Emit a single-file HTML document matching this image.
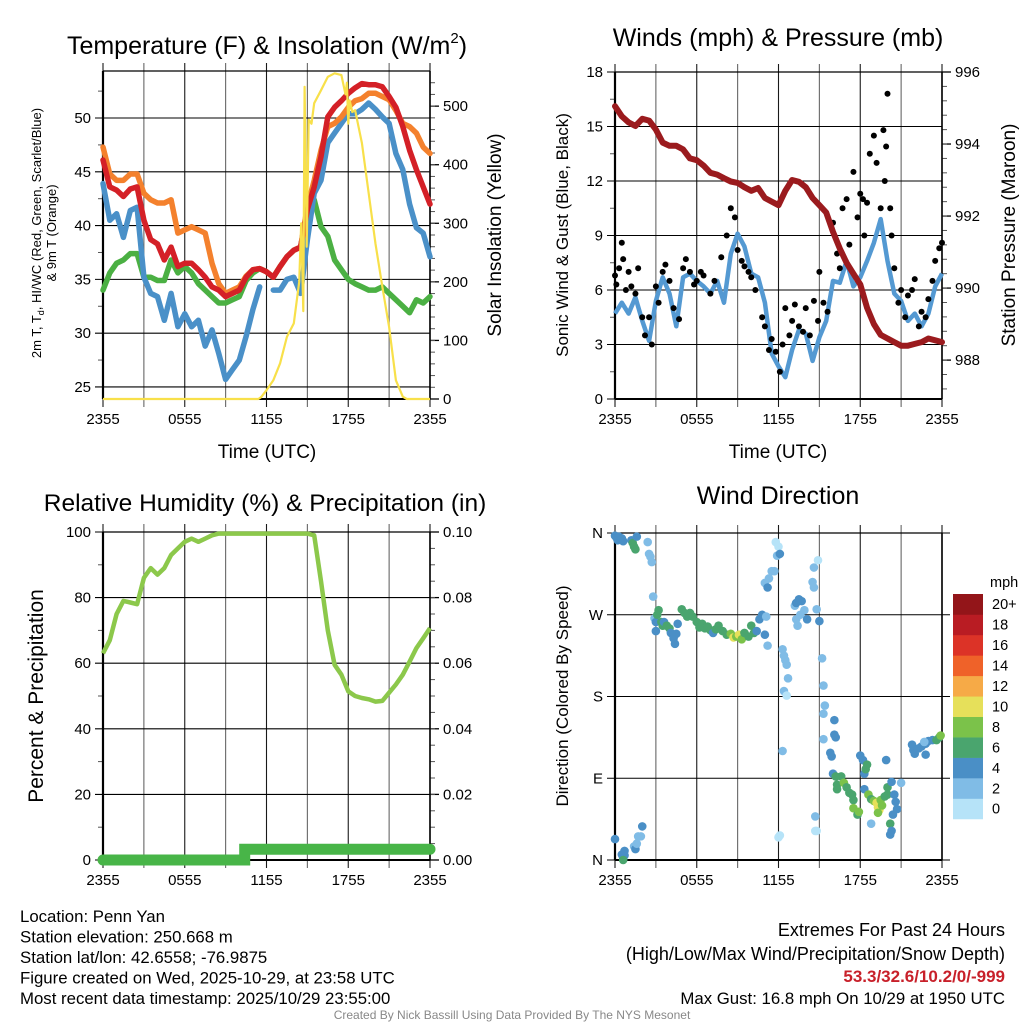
<!DOCTYPE html>
<html><head><meta charset="utf-8"><style>
html,body{margin:0;padding:0;background:#fff;width:1024px;height:1024px;overflow:hidden}
svg{display:block;font-family:"Liberation Sans",sans-serif}
</style></head><body>
<svg id="s" width="1024" height="1024" viewBox="0 0 1024 1024"></svg>
<script>
// ---------- DATA ----------
const timeTicks = [0, 6, 12, 18, 24];
const timeLabels = ["2355", "0555", "1155", "1755", "2355"];
// temperatures every 0.5 h
const tempRed = [46.1,43.6,43.3,42.7,43.4,43.6,40.5,38.7,38.3,36.8,38,36.2,36.5,36.5,35.9,35.2,34.3,34,33.4,33.7,34,35.2,35.9,36,35.7,35.2,36.2,37.1,37.7,38,41.5,43.6,46.4,50.1,51,51.6,52.3,52.8,53.2,53.1,53.1,52.9,52,51,49.2,47,45.2,43.6,42];
const tempOrange = [47.3,44.8,44.2,44.2,44.8,44.8,43,42.4,42.1,42.1,42.4,39.3,39.6,39.9,39.6,39.3,36.5,34.6,33.7,34,34.3,35.3,35.9,36,35.7,35.2,36.2,37.1,37.7,38,41.8,44.2,47,49.2,49.5,50.1,51,51.6,51.8,52.3,52.3,52,51.7,50.7,49.5,49.2,48.6,47.3,46.7];
const tempBlue = [43.9,40.5,41.1,38.9,41.4,41.7,35.2,33.7,33.4,31.2,33.7,30.6,31.8,30.6,31.2,28.8,30.3,28.1,25.7,26.6,27.5,29.7,32.2,34.3,null,34,34,35,35.2,33.7,38.7,43,44.2,47.7,48.6,49.5,50.4,50.4,50.8,51.4,50.8,50.1,49.5,46.7,45.2,42,39.8,39.3,37.1];
const tempGreen = [34,35.6,36.5,36.8,37.4,37.4,35.2,35.2,34.9,34.9,36.8,35.6,36.2,35.6,34.6,34,33.4,32.8,32.8,33.1,33.4,34.9,35.6,36,35.7,35.2,36.2,37.1,37.7,38,41.5,42.4,39.9,39,36.8,35.9,35,34.6,34.3,34,34,34.3,33.7,33.1,32.5,31.9,33.1,32.8,33.4];
const solarTimes = [0,11.4,11.6,12,12.5,13,13.5,14,14.4,14.55,14.7,14.8,14.95,15.1,15.3,15.5,16,16.5,17,17.5,17.8,17.9,18,18.1,18.3,18.5,19,19.5,20,20.5,21,21.5,22,22.3,24];
const solarVals = [0,0,3,15,32,61,106,129,200,300,150,533,260,477,470,505,527,550,556,553,520,540,470,510,490,493,437,351,265,192,123,32,4,0,0];
// winds every 0.5 h
const windSpeed = [4.7,5.3,4.7,5.6,4.3,3.2,5.4,6.7,5.8,4,6.7,6.9,6.5,6.2,5.8,6.5,5.3,8,9.1,8.4,6.9,6.7,5.3,2.5,1.8,1.2,2.7,3.8,3.6,2.1,3.4,4.3,6.5,6.4,7.6,6.2,6.7,7.6,8.6,9.9,7.6,5.8,5.4,4.3,4.7,4,4.7,6.2,6.9];
const pressure = [995.05,994.77,994.6,994.5,994.7,994.65,994.4,994.04,993.95,993.95,993.85,993.6,993.55,993.4,993.2,993.15,993.05,992.96,992.92,992.8,992.7,992.78,992.5,992.4,992.3,992.7,993.0,992.95,992.8,992.5,992.3,992.1,991.56,991.1,990.7,990.4,990.1,989.45,989.0,988.7,988.6,988.5,988.4,988.4,988.45,988.5,988.6,988.55,988.5];
const gustTimes = [0,0.1,0.3,0.5,0.6,0.8,1,1.2,1.5,1.7,2,2.2,2.5,2.7,3,3.2,3.5,3.7,4,4.3,4.7,5,5.2,5.5,5.8,6,6.3,6.5,7,7.3,7.8,8.2,8.5,8.8,9,9.3,9.5,9.8,10,10.3,10.8,11,11.3,11.5,11.8,12.1,12.3,12.5,12.8,13,13.2,13.5,13.8,14,14.3,14.6,14.9,15,15.3,15.6,16,16.3,16.5,16.7,17,17.2,17.5,17.8,18,18.2,18.3,18.5,18.7,19,19.2,19.5,19.7,19.8,19.9,20,20.2,20.3,20.5,20.8,21,21.3,21.5,21.8,22,22.3,22.5,22.8,23,23.3,23.5,23.8,24];
const gustVals = [6.8,6.3,7.2,8.6,7.7,6,7,6.2,5.8,7.2,4.5,3.5,4.5,3,6.2,5.3,7,7.4,6.5,5,4.4,7.2,7.7,7,6.3,6.5,7,6.8,5.8,6.5,7.8,9,10.5,10,8.2,7.6,7.3,7,6.7,6,4.5,4,2.7,3.3,2.6,1.5,3,5,3.5,4.3,5.2,4,3.7,5,3.5,5.4,4.3,7,5.3,4.8,9.7,8,7.2,10.5,11,8.5,12.5,10,11.3,11,9,10.8,13.5,14.5,13,10.5,14.8,12,13.9,16.8,10.5,9,7.2,5.3,6,4.5,5.7,6,6.6,4,4.8,4.5,5.5,6.5,7.6,8.3,8.6];
// RH every 0.5 h
const rhVals = [63,67,75,79,78.5,78,86,89,87,89,93,95,97,98,97,98,99,99.5,99.5,99.5,99.5,99.5,99.5,99.5,99.5,99.5,99.5,99.5,99.5,99.5,99.5,99,85,70,59.5,56.5,51.4,50,49.4,49,48.3,48.5,51,53.5,56.5,60.5,64.6,67.6,70.7];
const precipTimes = [0,10.4,10.4,24];
const precipVals = [0,0,0.0033,0.0033];
// wind direction
const dirH = [0,0.1,0.2,0.3,0.5,0.6,1.2,1.3,1.4,1.5,1.6,2.4,2.5,2.6,2.7,2.8,2.9,3,3,3.1,3.2,3.4,3.5,3.6,3.8,4,4.1,4.3,4.4,4.5,4.6,4.9,5.1,5.3,5.5,5.7,6,6.2,6.4,6.6,6.8,7,7.2,7.4,7.6,7.9,8.2,8.5,8.7,8.9,9.1,9.3,9.5,9.8,10,10.2,10.4,10.6,10.8,11,11.1,11.2,11,11.2,11.3,11.5,11.7,11.8,11.9,12,12.1,12.3,12.4,12.5,12.6,12.7,12.4,12.6,12.3,12.1,12,13.2,13.3,13.5,13.7,13.3,13.4,13.6,13.9,14.1,14.5,14.6,14.6,14.9,14.8,15,15.2,15.3,15.4,15.3,15.3,14.7,14.7,14.8,16.1,16.1,16.2,15.8,15.9,16,16.2,16.3,16.3,16.6,16.8,17,17.2,17.4,17.5,17.5,17.8,17.9,18,18.2,18.3,18.4,18.5,18.3,18.6,18.8,19,19.2,19.3,19.4,19.5,19.6,19.3,19.8,20,20,19.9,20.3,20.5,20.6,20.7,20.4,20.2,20.3,20.2,21,18.8,21.8,21.9,22,22.3,22.5,22.8,23,23.3,23.6,23.8,23.9,22.7,22.8,0,0.5,0.6,0.7,0.7,0.6,1.4,1.5,1.7,1.9,2,1.6];
const dirDeg = [357,355,352,356,354,351,352,349,345,342,356,350,337,334,328,290,266,262,252,270,275,262,258,262,258,255,250,244,238,249,260,276,272,268,272,268,262,256,260,255,257,253,250,254,258,252,248,249,245,246,248,243,250,246,258,250,252,265,270,248,268,236,305,300,310,318,318,350,335,345,337,232,225,220,215,200,186,181,120,27,25,280,283,287,285,265,258,270,275,265,306,300,322,330,276,263,222,192,170,161,133,48,32,32,154,138,135,118,114,95,92,83,78,92,85,80,74,72,66,57,50,53,115,110,95,100,105,78,72,67,65,63,58,55,66,60,52,70,72,80,110,86,72,64,56,50,40,32,28,85,40,127,121,117,123,125,128,131,132,132,135,137,130,116,23,6,2,5,10,0,15,12,26,26,37,18];
const dirSpd = [4,4,4,4,4,4,4,6,6,6,4,2,2,2,2,2,2,4,4,6,6,6,6,4,6,6,4,4,4,4,4,6,6,6,6,6,6,6,6,6,6,6,4,6,6,6,6,8,10,8,10,8,6,6,6,6,4,4,4,4,2,2,2,4,2,2,2,0,2,0,4,2,2,2,2,2,2,0,2,0,0,2,4,4,4,2,2,2,2,4,2,2,2,0,2,4,2,2,2,2,2,2,0,0,4,4,4,4,4,4,6,6,6,6,8,6,6,6,6,8,6,8,4,4,4,6,6,4,8,6,8,10,10,10,8,8,8,6,6,6,4,4,4,4,4,4,6,4,4,2,2,4,4,4,4,4,4,4,4,6,6,8,2,4,4,4,4,4,4,6,2,4,2,2,4,2];
const cbLabels = ["0","2","4","6","8","10","12","14","16","18","20+"];
const cbColors = ["#b6e3f8","#80bce6","#4a8fc6","#4aa56e","#7bc24a","#e6e05a","#f6aa47","#ef6229","#dc3327","#b91c23","#931519"];

// ---------- HELPERS ----------
const NS = "http://www.w3.org/2000/svg";
const svg = document.getElementById("s");
function mk(tag, attrs, parent) {
  const e = document.createElementNS(NS, tag);
  for (const k in attrs) e.setAttribute(k, attrs[k]);
  (parent || svg).appendChild(e);
  return e;
}
function txt(str, x, y, size, opts, parent) {
  const t = mk("text", Object.assign({x: x, y: y, "font-size": size, fill: "#000"}, opts || {}), parent);
  t.textContent = str;
  return t;
}
function lin(d0, d1, r0, r1) { return v => r0 + (v - d0) / (d1 - d0) * (r1 - r0); }
function pathFrom(xs, ys, sx, sy) {
  let d = "", pen = false;
  for (let i = 0; i < xs.length; i++) {
    if (ys[i] === null || ys[i] === undefined) { pen = false; continue; }
    d += (pen ? "L" : "M") + sx(xs[i]).toFixed(1) + "," + sy(ys[i]).toFixed(1);
    pen = true;
  }
  return d;
}
const halfHours = tempRed.map((_, i) => i * 0.5);

function frame(name, x0, x1, y0, y1, leftTicks, leftLabels, leftMinor, sy, rightTicks, rightLabels, rightMinor, sr) {
  const g = mk("g", {});
  
  
  const sx = lin(0, 24, x0, x1);
  for (let h = 0; h <= 24; h += 3) {
    const x = sx(h);
    mk("line", {x1: x, x2: x, y1: y0 - 8, y2: y1 + 8, stroke: "#000", "stroke-width": 1.1, "stroke-opacity": h % 6 ? 0.6 : 0.9}, g);
  }
  leftTicks.forEach((v, i) => {
    const y = sy(v);
    mk("line", {x1: x0 - 8, x2: x1 + (rightTicks ? 0 : 8), y1: y, y2: y, stroke: "#000", "stroke-width": 1.1}, g);
    const t = txt(leftLabels[i], x0 - 12, y + 5, 15, {"text-anchor": "end"}, g);
    
    
  });
  (leftMinor || []).forEach(v => { const y = sy(v); mk("line", {x1: x0 - 5, x2: x0, y1: y, y2: y, stroke: "#555", "stroke-width": 1}, g); });
  if (rightTicks) {
    rightTicks.forEach((v, i) => {
      const y = sr(v);
      mk("line", {x1: x1, x2: x1 + 9, y1: y, y2: y, stroke: "#000", "stroke-width": 1.3}, g);
      const t = txt(rightLabels[i], x1 + 13, y + 5, 15, {}, g);
      
      
    });
    (rightMinor || []).forEach(v => { const y = sr(v); mk("line", {x1: x1, x2: x1 + 5, y1: y, y2: y, stroke: "#555", "stroke-width": 1}, g); });
  }
  mk("line", {x1: x0, x2: x1, y1: y0, y2: y0, stroke: "#000", "stroke-width": 1.2}, g);
  mk("line", {x1: x0, x2: x1, y1: y1, y2: y1, stroke: "#000", "stroke-width": 2}, g);
  mk("line", {x1: x0, x2: x0, y1: y0, y2: y1, stroke: "#000", "stroke-width": 2.2}, g);
  mk("line", {x1: x1, x2: x1, y1: y0, y2: y1, stroke: "#000", "stroke-width": 1.6}, g);
  timeTicks.forEach((h, i) => {
    const t = txt(timeLabels[i], sx(h), y1 + 25, 15, {"text-anchor": "middle"}, g);
    
    
  });
  return sx;
}
function range(a, b, s) { const r = []; for (let v = a; v <= b + 1e-9; v += s) r.push(+v.toFixed(4)); return r; }

// ---------- PANEL 1: Temperature ----------
{
  const x0 = 103, x1 = 430, y0 = 71, y1 = 399;
  const sy = lin(23.88, 54.37, y1, y0), sr = lin(0, 560, y1, y0);
  const lt = [25, 30, 35, 40, 45, 50];
  const rt = [0, 100, 200, 300, 400, 500];
  const sx = frame("temperature", x0, x1, y0, y1, lt, lt.map(String), range(27.5, 52.5, 5), sy, rt, rt.map(String), range(20, 540, 20), sr);
  const series = [["dewpoint-line", tempGreen, "#4bb043"], ["windchill-line", tempBlue, "#4a90c8"], ["temp-9m-line", tempOrange, "#f4812d"], ["temp-2m-line", tempRed, "#d42027"]];
  series.forEach(s => {
    const p = mk("path", {d: pathFrom(halfHours, s[1], sx, sy), fill: "none", stroke: s[2], "stroke-width": 5.5, "stroke-linejoin": "round", "stroke-linecap": "round"});
    
    
  });
  const sol = mk("path", {d: pathFrom(solarTimes, solarVals, sx, sr), fill: "none", stroke: "#f8e04a", "stroke-width": 2.2, "stroke-linejoin": "round"});
  
  
  const t = txt("", 267, 54, 25, {"text-anchor": "middle"});
  t.innerHTML = 'Temperature (F) &amp; Insolation (W/m<tspan font-size="15" dy="-11">2</tspan><tspan dy="11">)</tspan>';
  
  
  const xl = txt("Time (UTC)", 267, 458, 19, {"text-anchor": "middle"});
  
  
  const yl = txt("", 0, 0, 13, {"text-anchor": "middle", transform: "translate(41,233) rotate(-90)"});
  yl.innerHTML = '2m T, T<tspan font-size="9" dy="3">d</tspan><tspan dy="-3">, HI/WC (Red, Green, Scarlet/Blue)</tspan>';
  
  
  const yl2 = txt("& 9m T (Orange)", 0, 0, 13, {"text-anchor": "middle", transform: "translate(56,233) rotate(-90)"});
  
  
  const yr = txt("Solar Insolation (Yellow)", 0, 0, 19, {"text-anchor": "middle", transform: "translate(501,235) rotate(-90)"});
  
  
}

// ---------- PANEL 2: Winds ----------
{
  const x0 = 615, x1 = 942, y0 = 72, y1 = 399;
  const sy = lin(0, 18, y1, y0), sr = lin(986.92, 996, y1, y0);
  const lt = [0, 3, 6, 9, 12, 15, 18];
  const rt = [988, 990, 992, 994, 996];
  const sx = frame("winds", x0, x1, y0, y1, lt, lt.map(String), range(1.5, 16.5, 3), sy, rt, rt.map(String), range(987.2, 995.6, 0.4), sr);
  const w = mk("path", {d: pathFrom(halfHours, windSpeed, sx, sy), fill: "none", stroke: "#5499d2", "stroke-width": 4.5, "stroke-linejoin": "round"});
  
  
  gustTimes.forEach((h, i) => {
    const c = mk("circle", {cx: sx(h), cy: sy(gustVals[i]), r: 3, fill: "#000"});
    
    
  });
  const p = mk("path", {d: pathFrom(halfHours, pressure, sx, sr), fill: "none", stroke: "#9b1b1e", "stroke-width": 6, "stroke-linejoin": "round", "stroke-linecap": "round"});
  
  
  const t = txt("Winds (mph) & Pressure (mb)", 778, 46, 25, {"text-anchor": "middle"});
  
  
  const xl = txt("Time (UTC)", 778, 458, 19, {"text-anchor": "middle"});
  
  
  const yl = txt("Sonic Wind & Gust (Blue, Black)", 0, 0, 17, {"text-anchor": "middle", transform: "translate(568,235) rotate(-90)"});
  
  
  const yr = txt("Station Pressure (Maroon)", 0, 0, 19, {"text-anchor": "middle", transform: "translate(1015,235) rotate(-90)"});
  
  
}

// ---------- PANEL 3: RH ----------
{
  const x0 = 103, x1 = 430, y0 = 532, y1 = 860;
  const sy = lin(0, 100, y1, y0), sr = lin(0, 0.1, y1, y0);
  const lt = [0, 20, 40, 60, 80, 100];
  const rt = [0, 0.02, 0.04, 0.06, 0.08, 0.1];
  const sx = frame("humidity", x0, x1, y0, y1, lt, lt.map(String), range(10, 90, 20), sy, rt, rt.map(v => v.toFixed(2)), range(0.005, 0.095, 0.005), sr);
  const r = mk("path", {d: pathFrom(halfHours, rhVals, sx, sy), fill: "none", stroke: "#8cc84b", "stroke-width": 4.5, "stroke-linejoin": "round"});
  
  
  const pr = mk("path", {d: pathFrom(precipTimes, precipVals, sx, sr), fill: "none", stroke: "#48b548", "stroke-width": 11, "stroke-linecap": "round"});
  
  
  const t = txt("Relative Humidity (%) & Precipitation (in)", 265, 511, 24.5, {"text-anchor": "middle"});
  
  
  const yl = txt("Percent & Precipitation", 0, 0, 21, {"text-anchor": "middle", transform: "translate(43,696) rotate(-90)"});
  
  
}

// ---------- PANEL 4: Wind Direction ----------
{
  const x0 = 615, x1 = 942, y0 = 533, y1 = 860;
  const sy = lin(0, 360, y1, y0);
  const lt = [0, 90, 180, 270, 360];
  const sx = frame("direction", x0, x1, y0, y1, lt, ["N", "E", "S", "W", "N"], null, sy, null);
  dirH.forEach((h, i) => {
    const bin = Math.min(10, Math.floor(dirSpd[i] / 2));
    const c = mk("circle", {cx: sx(h), cy: sy(dirDeg[i]), r: 4.3, fill: cbColors[bin]});
    
    
  });
  const t = txt("Wind Direction", 778, 504, 25, {"text-anchor": "middle"});
  
  
  const yl = txt("Direction (Colored By Speed)", 0, 0, 17, {"text-anchor": "middle", transform: "translate(568,696) rotate(-90)"});
  
  
  const cb = mk("g", {});
  
  
  const cbTop = 594, cbH = 20.45;
  cbColors.forEach((col, i) => {
    const y = cbTop + (10 - i) * cbH;
    const r = mk("rect", {x: 953, y: y, width: 30, height: cbH + 0.3, fill: col}, cb);
    
    
    const l = txt(cbLabels[i], 992, y + cbH / 2 + 5, 14.5, {}, cb);
    
    
  });
  const u = txt("mph", 990, 587, 14.5, {}, cb);
  
  
}

// ---------- FOOTER ----------
{
  const left = ["Location: Penn Yan", "Station elevation: 250.668 m", "Station lat/lon: 42.6558; -76.9875", "Figure created on Wed, 2025-10-29, at 23:58 UTC", "Most recent data timestamp: 2025/10/29 23:55:00"];
  left.forEach((s, i) => {
    const t = txt(s, 20, 922 + i * 20.5, 16.8);
    
    
  });
  const r1 = txt("Extremes For Past 24 Hours", 1005, 936, 18, {"text-anchor": "end"});
  
  
  const r2 = txt("(High/Low/Max Wind/Precipitation/Snow Depth)", 1005, 960, 18, {"text-anchor": "end"});
  
  
  const r3 = txt("53.3/32.6/10.2/0/-999", 1005, 982, 17, {"text-anchor": "end", fill: "#c8202a", "font-weight": "bold"});
  
  
  const r4 = txt("Max Gust: 16.8 mph On 10/29 at 1950 UTC", 1005, 1004, 16.8, {"text-anchor": "end"});
  
  
  const c = txt("Created By Nick Bassill Using Data Provided By The NYS Mesonet", 512, 1019, 12, {"text-anchor": "middle", fill: "#888"});
  
  
}
</script>
</body></html>
